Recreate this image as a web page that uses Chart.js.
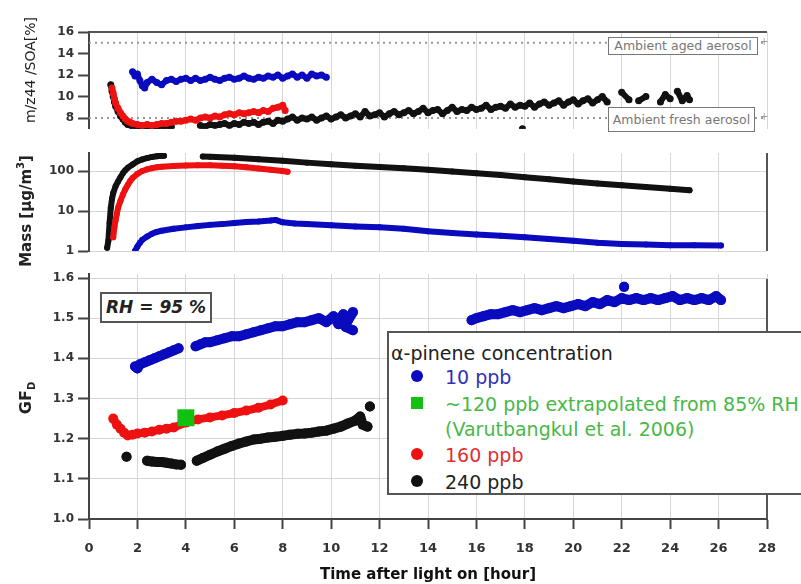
<!DOCTYPE html>
<html>
<head>
<meta charset="utf-8">
<script src="https://cdn.jsdelivr.net/npm/chart.js@4.4.0/dist/chart.umd.min.js"></script>
<style>
body { margin: 0; background: #fff; overflow: hidden; }
#wrap { position: relative; width: 801px; height: 584px; overflow: hidden; font-family: 'DejaVu Sans', sans-serif; }
canvas { position: absolute; left: 0; }
.note { position: absolute; background: #fff; border: 1px solid #777; color: #777; font-size: 12.5px; white-space: nowrap; box-sizing: border-box; text-align: center; }
.plus { position: absolute; color: #999; font-size: 10px; }
#rh { position: absolute; left: 100px; top: 292px; width: 112px; height: 31px; box-sizing: border-box; border: 2px solid #555; background: #fff;
      font: italic bold 17px 'DejaVu Sans', sans-serif; color: #222; text-align: center; line-height: 27px; }
#legend { position: absolute; left: 387px; top: 331px; width: 500px; height: 164px; box-sizing: border-box;
          border-top: 2px solid #555; border-left: 2px solid #555; border-bottom: 2px solid #555; background: #fff; }
#legend div { position: absolute; font-size: 19px; white-space: nowrap; line-height: 22px; }
#legend .mk { position: absolute; width: 12px; height: 12px; }
</style>
</head>
<body>
<div id="wrap">
  <canvas id="ratio" width="801" height="140" style="top:0"></canvas>
  <canvas id="mass" width="801" height="150" style="top:140px"></canvas>
  <canvas id="gf" width="801" height="322" style="top:262px"></canvas>

  <div class="note" style="left:608px; top:37px; width:150px; height:18px; line-height:16px">Ambient aged aerosol</div>
  <div class="note" style="left:608px; top:107px; width:147px; height:25px; line-height:23px">Ambient fresh aerosol</div>
  <div class="plus" style="left:760px; top:36px">+</div>
  <div class="plus" style="left:760px; top:111px">+</div>

  <div id="rh">RH = 95 %</div>

  <div id="legend">
    <div style="left:2px; top:9px; color:#222">α-pinene concentration</div>
    <span class="mk" style="left:22px; top:37px; border-radius:50%; background:#0a0abf"></span>
    <div style="left:56px; top:33px; color:#3030b8">10 ppb</div>
    <span class="mk" style="left:22px; top:64px; background:#11c011"></span>
    <div style="left:56px; top:60px; color:#48b848">~120 ppb extrapolated from 85% RH</div>
    <div style="left:56px; top:85px; color:#48b848">(Varutbangkul et al. 2006)</div>
    <span class="mk" style="left:22px; top:115px; border-radius:50%; background:#ee1111"></span>
    <div style="left:56px; top:111px; color:#e03030">160 ppb</div>
    <span class="mk" style="left:22px; top:142px; border-radius:50%; background:#111"></span>
    <div style="left:56px; top:138px; color:#222">240 ppb</div>
  </div>
</div>

<script>
// ---- data (time in hours after light on) ----
var hourTicks = [0, 2, 4, 6, 8, 10, 12, 14, 16, 18, 20, 22, 24, 26, 28];
var ratioTicks = [8, 10, 12, 14, 16];
var massTicks = [1, 10, 100];
var gfTicks = [1.0, 1.1, 1.2, 1.3, 1.4, 1.5, 1.6];
var ambientLevels = [15, 8];   // aged, fresh

// m/z44 / SOA [%]
var ratio10 = [[1.8,12.3],[1.9,11.9],[2.0,12.1],[2.1,11.5],[2.2,11.0],[2.3,10.8],[2.4,11.3],[2.6,11.6],[2.8,11.3],[3.0,11.1],
  [3.2,11.5],[3.4,11.6],[3.6,11.4],[3.8,11.6],[4.0,11.7],[4.2,11.5],[4.4,11.7],[4.6,11.5],[4.8,11.6],[5.0,11.8],[5.2,11.6],
  [5.4,11.5],[5.6,11.7],[5.8,11.8],[6.0,11.6],[6.2,11.7],[6.4,11.9],[6.6,11.7],[6.8,11.6],[7.0,11.8],[7.2,11.7],[7.4,11.9],
  [7.6,11.8],[7.8,12.0],[8.0,11.7],[8.2,11.9],[8.4,12.1],[8.6,11.8],[8.8,12.0],[9.0,11.7],[9.2,12.1],[9.4,11.9],[9.6,12.0],[9.8,11.8]];
var ratio160 = [[0.95,10.8],[1.0,10.3],[1.05,9.8],[1.1,9.4],[1.2,8.9],[1.3,8.5],[1.4,8.2],[1.5,7.9],[1.6,7.7],[1.7,7.6],[1.8,7.5],
  [2.0,7.4],[2.2,7.3],[2.4,7.4],[2.6,7.3],[2.8,7.4],[3.0,7.5],[3.2,7.5],[3.4,7.6],[3.6,7.7],[3.8,7.7],[4.0,7.8],[4.2,7.9],
  [4.4,7.8],[4.6,8.0],[4.8,8.1],[5.0,8.0],[5.2,8.2],[5.4,8.1],[5.6,8.3],[5.8,8.4],[6.0,8.3],[6.2,8.5],[6.4,8.4],[6.6,8.5],
  [6.8,8.6],[7.0,8.5],[7.2,8.7],[7.4,8.6],[7.6,8.9],[7.8,9.0],[8.0,9.2],[8.1,8.7]];
var ratio240 = [[0.9,11.1],[0.95,10.5],[1.0,10.0],[1.05,9.5],[1.1,9.1],[1.2,8.6],[1.3,8.2],[1.4,7.9],[1.5,7.6],[1.6,7.4],
  [1.8,7.2],[2.0,7.1],[2.2,7.1],[2.4,7.0],[2.6,7.1],[2.8,7.0],[3.0,7.1],[3.2,7.1],[3.4,7.2],[3.5,null],
  [4.6,7.3],[4.8,7.2],[5.0,7.4],[5.2,7.3],[5.4,7.4],[5.6,7.5],[5.8,7.3],[6.0,7.5],[6.2,7.4],[6.4,7.6],[6.6,7.5],[6.8,7.6],
  [7.0,7.4],[7.2,7.6],[7.4,7.7],[7.6,7.5],[7.8,7.8],[8.0,7.7],[8.2,7.9],[8.4,8.1],[8.6,7.8],[8.8,8.0],[9.0,7.9],[9.2,8.1],
  [9.4,7.8],[9.6,8.0],[9.8,8.2],[10.0,7.9],[10.2,8.1],[10.4,8.3],[10.6,8.0],[10.8,8.2],[11.0,8.4],[11.2,8.1],[11.4,8.6],
  [11.6,8.2],[11.8,8.3],[12.0,8.5],[12.2,8.1],[12.4,8.4],[12.6,8.6],[12.8,8.3],[13.0,8.5],[13.2,8.7],[13.4,8.4],[13.6,8.6],
  [13.8,8.9],[14.0,8.5],[14.2,8.7],[14.4,8.8],[14.6,8.4],[14.8,8.7],[15.0,9.0],[15.2,8.6],[15.4,8.8],[15.6,8.7],[15.8,9.0],
  [16.0,8.8],[16.2,8.9],[16.4,9.2],[16.6,8.8],[16.8,9.0],[17.0,9.1],[17.2,8.9],[17.4,9.3],[17.6,9.0],[17.8,9.2],[18.0,9.1],
  [18.2,9.4],[18.4,9.0],[18.6,9.3],[18.8,9.5],[19.0,9.2],[19.2,9.4],[19.4,9.6],[19.6,9.2],[19.8,9.5],[20.0,9.7],[20.2,9.3],
  [20.4,9.6],[20.6,9.8],[20.8,9.4],[21.0,9.7],[21.2,10.0],[21.4,9.5],[21.6,null],
  [17.9,7.0],[21.8,null],[22.0,10.4],[22.3,9.7],[22.5,null],[22.7,9.6],[23.0,10.0],[23.2,null],[23.6,9.5],[23.8,10.2],
  [24.0,9.8],[24.1,null],[24.3,10.5],[24.5,9.6],[24.7,10.1],[24.8,9.7]];

// SOA mass [ug/m3]
var mass10 = [[1.9,1.0],[2.0,1.3],[2.1,1.6],[2.2,1.9],[2.4,2.3],[2.6,2.7],[2.8,3.0],[3.0,3.2],[3.5,3.6],[4.0,3.9],[4.5,4.2],
  [5.0,4.5],[5.5,4.7],[6.0,5.0],[6.5,5.3],[7.0,5.5],[7.5,5.8],[7.7,6.0],[8.0,5.2],[8.5,4.9],[9.0,4.7],[10.0,4.4],[11.0,4.1],
  [12.0,3.9],[13.0,3.6],[14.0,3.1],[15.0,2.8],[16.0,2.6],[17.0,2.4],[18.0,2.2],[19.0,2.0],[20.0,1.8],[21.0,1.6],[22.0,1.5],
  [23.0,1.45],[24.0,1.4],[25.0,1.4],[26.1,1.38]];
var mass160 = [[1.0,2.2],[1.05,4],[1.1,6],[1.15,8.5],[1.2,12],[1.3,18],[1.4,26],[1.5,35],[1.6,45],[1.7,56],[1.8,67],[2.0,85],
  [2.2,100],[2.4,110],[2.6,118],[2.8,124],[3.0,128],[3.5,134],[4.0,138],[4.5,140],[5.0,139],[5.5,136],[6.0,131],[6.5,124],
  [7.0,116],[7.5,108],[8.0,100],[8.2,96]];
var mass240 = [[0.75,1.2],[0.8,1.8],[0.85,5],[0.9,12],[0.95,20],[1.0,28],[1.1,42],[1.2,55],[1.3,70],[1.4,88],[1.5,105],[1.6,120],
  [1.8,145],[2.0,175],[2.2,195],[2.4,210],[2.6,225],[2.8,235],[3.0,240],[3.1,240],[3.5,null],
  [4.7,230],[5.0,228],[6.0,215],[7.0,198],[8.0,180],[9.0,162],[10.0,148],[11.0,136],[12.0,126],[13.0,117],[14.0,107],
  [15.0,97],[16.0,88],[17.0,79],[18.0,70],[19.0,62],[20.0,55],[21.0,49],[22.0,44],[23.0,40],[24.0,36],[24.8,33]];

// diameter growth factor GF_D
var gf10 = [[1.9,1.38],[2.0,1.375],[2.1,1.385],[2.3,1.39],[2.5,1.395],[2.7,1.40],[2.9,1.405],[3.1,1.41],[3.3,1.415],[3.5,1.42],
  [3.7,1.425],[4.0,null],
  [4.4,1.43],[4.6,1.435],[4.8,1.44],[5.0,1.44],[5.3,1.445],[5.6,1.45],[5.9,1.455],[6.2,1.455],[6.5,1.46],[6.8,1.465],[7.1,1.47],
  [7.4,1.475],[7.7,1.48],[8.0,1.48],[8.3,1.485],[8.6,1.49],[8.9,1.49],[9.2,1.495],[9.5,1.50],[9.8,1.49],[10.1,1.505],[10.3,1.485],
  [10.5,1.51],[10.7,1.495],[10.9,1.515],[11.0,null],[10.6,1.478],[10.9,1.47],[12.0,null],
  [15.8,1.495],[16.0,1.50],[16.3,1.505],[16.6,1.51],[16.9,1.51],[17.2,1.515],[17.5,1.52],[17.8,1.515],[18.1,1.52],[18.4,1.525],
  [18.7,1.52],[19.0,1.525],[19.3,1.53],[19.6,1.525],[19.9,1.53],[20.2,1.535],[20.5,1.53],[20.8,1.54],[21.1,1.535],[21.4,1.545],
  [21.7,1.54],[22.0,1.55],[22.3,1.545],[22.6,1.55],[22.9,1.545],[23.2,1.55],[23.5,1.545],[23.8,1.55],[24.1,1.555],[24.4,1.545],
  [24.7,1.55],[25.0,1.545],[25.3,1.55],[25.6,1.545],[25.9,1.555],[26.1,1.545],[26.2,null],[22.1,1.578]];
var gf120 = [[4.0,1.252]];
var gf160 = [[1.0,1.25],[1.15,1.235],[1.3,1.225],[1.45,1.215],[1.6,1.208],[1.8,1.21],[2.0,1.213],[2.3,1.215],[2.6,1.218],
  [2.9,1.222],[3.2,1.225],[3.5,1.228],[4.0,1.24],[4.5,1.248],[5.0,1.253],[5.5,1.258],[6.0,1.264],[6.5,1.27],[7.0,1.277],
  [7.5,1.285],[8.0,1.295]];
var gf240 = [[1.55,1.155],[2.0,null],[2.4,1.145],[2.6,1.143],[2.8,1.142],[3.0,1.142],[3.2,1.14],[3.4,1.138],[3.6,1.136],[3.8,1.135],
  [4.1,null],
  [4.45,1.145],[4.7,1.152],[5.0,1.16],[5.3,1.168],[5.6,1.175],[5.9,1.182],[6.2,1.188],[6.5,1.193],[6.8,1.198],[7.1,1.2],
  [7.4,1.203],[7.7,1.205],[8.0,1.207],[8.3,1.21],[8.6,1.212],[8.9,1.213],[9.2,1.215],[9.5,1.218],[9.8,1.22],[10.1,1.225],
  [10.4,1.23],[10.7,1.238],[11.0,1.245],[11.2,1.255],[11.3,1.235],[11.5,1.23],[11.55,null],[11.6,1.28]];

// ---- drawing ----
Chart.defaults.font.family = "'DejaVu Sans', sans-serif";
Chart.defaults.color = '#333';

var AXIS_W = 89;
var BLUE = '#0a0abf', RED = '#ee1111', BLACK = '#111', GREEN = '#11c011';

function series(points, color, radius, width, style) {
    return {
        data: points.map(function(p) { return {x: p[0], y: p[1]}; }),
        showLine: true,
        spanGaps: false,
        borderColor: color,
        backgroundColor: color,
        borderWidth: width,
        borderCapStyle: 'round',
        borderJoinStyle: 'round',
        pointRadius: radius,
        pointHoverRadius: radius,
        pointBorderWidth: 0,
        pointStyle: style || 'circle'
    };
}

function refLine(level) {
    return {
        data: [{x: 0, y: level}, {x: 28, y: level}],
        showLine: true,
        borderColor: '#999',
        borderWidth: 2,
        borderDash: [2, 4],
        pointRadius: 0
    };
}

function xScale(bottom) {
    return {
        type: 'linear', min: 0, max: 28,
        afterBuildTicks: function(s) { s.ticks = hourTicks.map(function(v) { return {value: v}; }); },
        afterFit: function(s) { s.height = bottom ? 65 : 0; },
        grid: {color: '#d6d6d6', lineWidth: 1, drawTicks: bottom, tickLength: 10, tickColor: '#444', tickWidth: 2},
        border: {display: bottom, color: '#444', width: 2},
        ticks: {display: bottom, padding: 12, font: {size: 13, weight: 'bold'}, color: '#333'},
        title: {display: bottom, text: 'Time after light on [hour]', color: '#111',
                font: {size: 15, weight: 'bold'}, padding: {top: 0, bottom: 0}}
    };
}

function yScale(extra) {
    var s = {
        afterFit: function(sc) { sc.width = AXIS_W; },
        border: {color: '#444', width: 2},
        grid: {color: '#d6d6d6', tickColor: '#444', tickLength: 11, tickWidth: 2},
        ticks: {padding: 4, font: {size: 12, weight: 'bold'}, color: '#333'}
    };
    return Object.assign(s, extra);
}

// axis title + frame lines
var framePlugin = {
    id: 'frame',
    afterDraw: function(chart, args, opts) {
        var ctx = chart.ctx, a = chart.chartArea;
        ctx.save();
        ctx.strokeStyle = '#555';
        ctx.lineWidth = 2;
        ctx.beginPath();
        if (opts.top) { ctx.moveTo(a.left, a.top); ctx.lineTo(a.right, a.top); }
        if (opts.right) { ctx.moveTo(a.right, a.top + (opts.rightFrom || 0)); ctx.lineTo(a.right, a.bottom); }
        ctx.stroke();
        if (opts.title) {
            var t = opts.title, total = 0;
            t.parts.forEach(function(p) { ctx.font = p.font; total += ctx.measureText(p.text).width; });
            ctx.translate(t.x, t.y);
            ctx.rotate(-Math.PI / 2);
            ctx.fillStyle = '#222';
            ctx.textBaseline = 'middle';
            var x = -total / 2;
            t.parts.forEach(function(p) {
                ctx.font = p.font;
                ctx.fillText(p.text, x, p.dy || 0);
                x += ctx.measureText(p.text).width;
            });
        }
        ctx.restore();
    }
};

function makeChart(id, datasets, y, padding, frame, bottom) {
    return new Chart(document.getElementById(id), {
        type: 'scatter',
        data: {datasets: datasets},
        options: {
            responsive: false,
            animation: false,
            devicePixelRatio: 1,
            layout: {padding: padding},
            plugins: {legend: {display: false}, tooltip: {enabled: false}, frame: frame},
            scales: {x: xScale(bottom), y: y}
        },
        plugins: [framePlugin]
    });
}

makeChart('ratio', [
    series(ratio10, BLUE, 3.5, 6),
    series(ratio160, RED, 3.5, 6),
    series(ratio240, BLACK, 3.5, 6),
    refLine(ambientLevels[0]),
    refLine(ambientLevels[1])
], yScale({
    type: 'linear', min: 7.0, max: 16,
    afterBuildTicks: function(s) { s.ticks = ratioTicks.map(function(v) { return {value: v}; }); },
    grid: {drawOnChartArea: false, tickColor: '#444', tickLength: 11, tickWidth: 2}
}), {top: 32, bottom: 11, left: 0, right: 34},
   {top: true, title: {x: 31, y: 70, parts: [{text: 'm/z44 /SOA[%]', font: '14px "DejaVu Sans"'}]}}, false);

makeChart('mass', [
    series(mass10, BLUE, 3, 6),
    series(mass160, RED, 3, 6),
    series(mass240, BLACK, 3, 6)
], yScale({
    type: 'logarithmic', min: 1, max: 282,
    afterBuildTicks: function(s) { s.ticks = massTicks.map(function(v) { return {value: v}; }); },
    ticks: {padding: 4, font: {size: 12, weight: 'bold'}, color: '#333', callback: function(v) { return String(v); }}
}), {top: 13, bottom: 39, left: 0, right: 34},
   {right: true, title: {x: 27, y: 71, parts: [
       {text: 'Mass [µg/m', font: 'bold 15px "DejaVu Sans"'},
       {text: '3', font: 'bold 10px "DejaVu Sans"', dy: -6},
       {text: ']', font: 'bold 15px "DejaVu Sans"'}]}}, false);

makeChart('gf', [
    series(gf120, GREEN, 12, 0, 'rect'),
    series(gf10, BLUE, 5, 10),
    series(gf160, RED, 5, 8),
    series(gf240, BLACK, 5, 10)
], yScale({
    type: 'linear', min: 1.0, max: 1.61,
    afterBuildTicks: function(s) { s.ticks = gfTicks.map(function(v) { return {value: v}; }); },
    ticks: {padding: 4, font: {size: 12, weight: 'bold'}, color: '#333', callback: function(v) { return v.toFixed(1); }}
}), {top: 10, bottom: 0, left: 0, right: 34},
   {right: true, rightFrom: 5, title: {x: 27, y: 136, parts: [
       {text: 'GF', font: 'bold 16px "DejaVu Sans"'},
       {text: 'D', font: 'bold 10px "DejaVu Sans"', dy: 5}]}}, true);
</script>
</body>
</html>
